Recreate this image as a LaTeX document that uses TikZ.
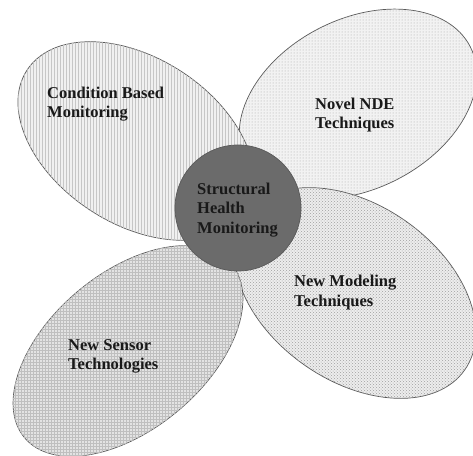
\documentclass[tikz,border=0pt]{standalone}
\usepackage{fontspec}
\setmainfont{Liberation Serif}
\usetikzlibrary{shapes.geometric,patterns}
\definecolor{edge}{gray}{0.35}
\definecolor{hubfill}{gray}{0.42}
\tikzset{
  petal/.style={ellipse, draw=edge, line width=0.7pt, inner sep=0pt, outer sep=0pt},
  lbl/.style={anchor=west, align=left, inner sep=0pt, font=\fontsize{16.5}{19.5}\selectfont\bfseries, text=black!90},
}
\begin{document}
\begin{tikzpicture}[x=1pt,y=1pt]
\useasboundingbox (0,0) rectangle (473,455);
\clip (0,0) rectangle (473,455);
\fill[white] (0,0) rectangle (473,455);
% petals
\node[petal, minimum width=252pt, minimum height=170pt, rotate=27,
      fill=gray!10, postaction={pattern=dots, pattern color=gray!70}] (ndeE) at (358,351) {};
\node[petal, minimum width=268pt, minimum height=176pt, rotate=-35,
      fill=gray!14, postaction={pattern=crosshatch dots, pattern color=gray!75}] (modE) at (355,162) {};
\node[petal, minimum width=260pt, minimum height=166pt, rotate=-33,
      fill=gray!12, postaction={pattern=vertical lines, pattern color=gray!45}] (cbmE) at (136,314) {};
\node[petal, minimum width=270pt, minimum height=156pt, rotate=40,
      fill=gray!22, postaction={pattern=grid, pattern color=gray!50}] (senE) at (128,104) {};
% hub
\node[circle, draw=edge, line width=0.7pt, fill=hubfill, minimum size=126pt, inner sep=0pt] (hub) at (238,247) {};
% labels
\node[lbl] (cbmT) at (47,351) {Condition Based\\Monitoring};
\node[lbl] (ndeT) at (315,340) {Novel NDE\\Techniques};
\node[lbl] (hubT) at (197,245) {Structural\\Health\\Monitoring};
\node[lbl] (modT) at (294,162.5) {New Modeling\\Techniques};
\node[lbl] (senT) at (68,98.5) {New Sensor\\Technologies};
\end{tikzpicture}
\end{document}
